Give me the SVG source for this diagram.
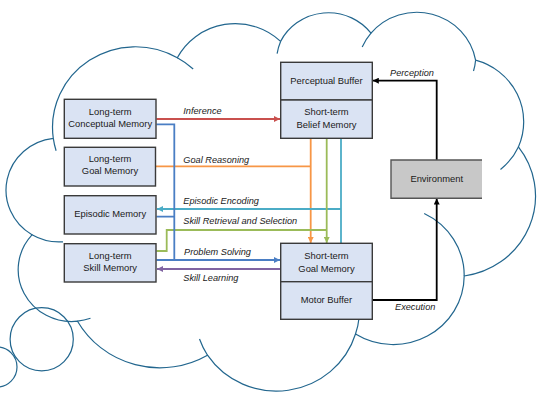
<svg xmlns="http://www.w3.org/2000/svg" width="545" height="413" viewBox="0 0 545 413">
<style>
.cloud{fill:none;stroke:#22668e;stroke-width:1.2}
.box{fill:#dae3f3;stroke:#3a3a3a;stroke-width:1.4}
.env{fill:#c8c8c8}
.t{font-family:"Liberation Sans",Arial,sans-serif;font-size:9.4px;fill:#1a1a1a;text-anchor:middle}
.l{font-family:"Liberation Sans",Arial,sans-serif;font-size:9.2px;font-style:italic;fill:#1a1a1a}
.c{fill:none;stroke-width:1.8}
</style>
<defs>
<marker id="mRed" viewBox="0 0 10 10" refX="10" refY="5" markerWidth="6" markerHeight="6" markerUnits="userSpaceOnUse" orient="auto"><path d="M0,0L10,5L0,10z" fill="#c9504e"/></marker>
<marker id="mOra" viewBox="0 0 10 10" refX="10" refY="5" markerWidth="6" markerHeight="6" markerUnits="userSpaceOnUse" orient="auto"><path d="M0,0L10,5L0,10z" fill="#f79646"/></marker>
<marker id="mGrn" viewBox="0 0 10 10" refX="10" refY="5" markerWidth="6" markerHeight="6" markerUnits="userSpaceOnUse" orient="auto"><path d="M0,0L10,5L0,10z" fill="#9bbb59"/></marker>
<marker id="mCya" viewBox="0 0 10 10" refX="10" refY="5" markerWidth="6" markerHeight="6" markerUnits="userSpaceOnUse" orient="auto"><path d="M0,0L10,5L0,10z" fill="#4bacc6"/></marker>
<marker id="mBlu" viewBox="0 0 10 10" refX="10" refY="5" markerWidth="6" markerHeight="6" markerUnits="userSpaceOnUse" orient="auto"><path d="M0,0L10,5L0,10z" fill="#4a7ec4"/></marker>
<marker id="mPur" viewBox="0 0 10 10" refX="10" refY="5" markerWidth="6" markerHeight="6" markerUnits="userSpaceOnUse" orient="auto"><path d="M0,0L10,5L0,10z" fill="#8064a2"/></marker>
<marker id="mBlk" viewBox="0 0 10 10" refX="10" refY="5" markerWidth="6" markerHeight="6" markerUnits="userSpaceOnUse" orient="auto"><path d="M0,0L10,5L0,10z" fill="#000"/></marker>
</defs>
<rect width="545" height="413" fill="#fff"/>
<g id="cloud">
<path class="cloud" d="M53.3,138.3 A82.9,80.6 0 0 1 177.3,57.8 A65.4,63.7 0 0 1 280.6,41.4 A53.6,52.1 0 0 1 371,33.2 A59.6,57.8 0 0 1 475.6,60.2 A65.4,63.8 0 0 1 518.4,146.9 A83.1,80.8 0 0 1 464.2,276 A71,69 0 0 1 355.5,334 A82.8,80.8 0 0 1 207.5,355.2 A94.7,92.4 0 0 1 77.5,321.2 A53.5,51.9 0 0 1 32,234.8 A53.3,52.1 0 0 1 53.3,138.3 Z"/>
<path class="cloud" d="M63,241.8 A53.3,52.1 0 0 1 32,234.8 M90.5,318.3 A53.5,51.9 0 0 1 77.5,321.2 M207.5,355.2 A82.8,80.8 0 0 1 199.5,339 M359.2,317 A82.8,80.8 0 0 1 355.5,334 M424.2,213.5 A71,69 0 0 1 464.2,276 M518.4,146.9 A65.4,63.8 0 0 1 500.5,169.5 M475.6,60.2 A59.6,57.8 0 0 1 473.5,71 M362.2,47 A59.6,57.8 0 0 1 371,33.2 M277.1,53.7 A53.6,52.1 0 0 1 280.6,41.4 M177.3,57.8 A82.9,80.6 0 0 1 193.2,69 M56.1,150.7 A82.9,80.6 0 0 1 53.3,138.3"/>
<circle class="cloud" cx="41.7" cy="339.3" r="31.6"/>
<circle class="cloud" cx="-3" cy="367" r="20"/>
</g>
<g id="connectors">
<path class="c" stroke="#c9504e" d="M156.5,119H280" marker-end="url(#mRed)"/>
<path class="c" stroke="#f79646" d="M155.5,166.3H310.7"/>
<path class="c" stroke="#f79646" d="M310.7,138.3V243" marker-end="url(#mOra)"/>
<path class="c" stroke="#4bacc6" d="M341,243.3V138.3"/>
<path class="c" stroke="#4bacc6" d="M341,209H157" marker-end="url(#mCya)"/>
<path class="c" stroke="#9bbb59" d="M156.5,251H166.7V230H326.7"/>
<path class="c" stroke="#9bbb59" d="M326.7,138.3V243" marker-end="url(#mGrn)"/>
<path class="c" stroke="#4a7ec4" d="M156.5,124.3H174.3V260M156.5,216.7H174.3"/>
<path class="c" stroke="#4a7ec4" d="M156.5,260H280" marker-end="url(#mBlu)"/>
<path class="c" stroke="#8064a2" d="M280.5,269H157" marker-end="url(#mPur)"/>
<path class="c" stroke="#000" d="M436.7,160V80.7H372.8" marker-end="url(#mBlk)"/>
<path class="c" stroke="#000" d="M372.5,300H436.7V198.6" marker-end="url(#mBlk)"/>
<text class="l" x="183.3" y="113.5">Inference</text>
<text class="l" x="183.3" y="162.5">Goal Reasoning</text>
<text class="l" x="183.3" y="203.7">Episodic Encoding</text>
<text class="l" x="183.3" y="223.7">Skill Retrieval and Selection</text>
<text class="l" x="184" y="254.7">Problem Solving</text>
<text class="l" x="183.3" y="280.9">Skill Learning</text>
<text class="l" x="390" y="75.9">Perception</text>
<text class="l" x="395" y="310">Execution</text>
</g>
<g id="lt-conceptual">
<rect class="box" x="64.3" y="99.3" width="91.7" height="39"/>
<text class="t" x="110.2" y="115.2">Long-term</text>
<text class="t" x="110.2" y="127.2">Conceptual Memory</text>
</g>
<g id="lt-goal">
<rect class="box" x="64.3" y="147.3" width="91.2" height="38.7"/>
<text class="t" x="110" y="162.2">Long-term</text>
<text class="t" x="110" y="174.2">Goal Memory</text>
</g>
<g id="episodic">
<rect class="box" x="64.3" y="195.7" width="91.7" height="38.3"/>
<text class="t" x="110.2" y="216.5">Episodic Memory</text>
</g>
<g id="lt-skill">
<rect class="box" x="64.3" y="243.7" width="91.7" height="38.3"/>
<text class="t" x="110.2" y="258.9">Long-term</text>
<text class="t" x="110.2" y="270.9">Skill Memory</text>
</g>
<g id="perceptual-buffer">
<rect class="box" x="280.7" y="62.3" width="91.6" height="37.7"/>
<text class="t" x="326.5" y="84.2">Perceptual Buffer</text>
</g>
<g id="st-belief">
<rect class="box" x="280.7" y="100" width="91.6" height="38.3"/>
<text class="t" x="326.5" y="114.9">Short-term</text>
<text class="t" x="326.5" y="127.9">Belief Memory</text>
</g>
<g id="st-goal">
<rect class="box" x="280.7" y="243.3" width="91.6" height="38.4"/>
<text class="t" x="326.5" y="258.9">Short-term</text>
<text class="t" x="326.5" y="272.2">Goal Memory</text>
</g>
<g id="motor-buffer">
<rect class="box" x="280.7" y="281.7" width="91.6" height="37.6"/>
<text class="t" x="326.5" y="302.5">Motor Buffer</text>
</g>
<g id="environment">
<rect class="env" x="391" y="160" width="91" height="38.3"/>
<path d="M482,160H391V198.3H482" fill="none" stroke="#555" stroke-width="1.4"/>
<text class="t" x="436.7" y="181.9">Environment</text>
</g>
</svg>
